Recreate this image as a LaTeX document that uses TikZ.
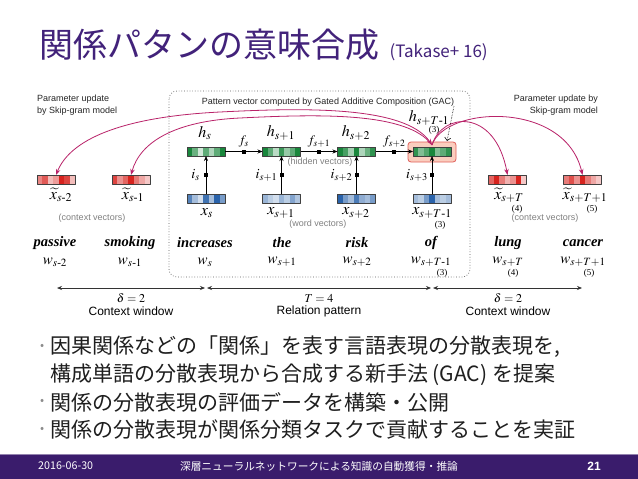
\documentclass[tikz,border=0pt]{standalone}
\usepackage{amsmath}
\usepackage{mathptmx}
\usepackage{fontspec}
\setmainfont{Liberation Serif}
\setsansfont{Liberation Sans}
\newfontfamily\jpfont{Noto Sans CJK JP}
\usetikzlibrary{arrows.meta,positioning}

\definecolor{titlepurple}{RGB}{66,34,122}
\definecolor{barpurple}{RGB}{58,28,108}
\definecolor{gacred}{RGB}{215,35,30}
\definecolor{gacgreen}{RGB}{25,135,60}
\definecolor{gacblue}{RGB}{30,90,165}
\definecolor{updmag}{RGB}{185,35,105}
\definecolor{hlfill}{RGB}{250,205,190}
\definecolor{hlline}{RGB}{225,95,90}

\newcommand\mhy{\text{-}}
% vector of 7 cells: name, centre, colour, shades
\newcommand\vecbar[4]{%
  \node[vecbox] (#1) at (#2) {};
  \foreach \sh [count=\k from 0] in {#4}
    \fill[#3!\sh!white] ([xshift={\k*38/7}]#1.north west) rectangle ([xshift={(\k+1)*38/7}]#1.south west);
  \draw[vecline] (#1.north west) rectangle (#1.south east);
}

\tikzset{
  vecbox/.style={rectangle, minimum width=38pt, minimum height=9pt, inner sep=0pt, outer sep=0pt},
  vecline/.style={draw=black!75, line width=0.5pt},
  gate/.style={fill=black, minimum size=4pt, inner sep=0pt, outer sep=0pt},
  flow/.style={-{Stealth[length=5pt,width=4pt]}, line width=0.6pt},
  upd/.style={updmag, line width=0.8pt, -{Stealth[length=6pt,width=4.5pt]}},
  span/.style={{Stealth[length=5pt,width=4pt]}-{Stealth[length=5pt,width=4pt]}, line width=0.7pt, black!80, shorten <=1pt, shorten >=1pt},
  note/.style={font=\sffamily\fontsize{9}{12}\selectfont, text=black!85},
  faint/.style={font=\sffamily\fontsize{9}{11}\selectfont, text=black!50},
  word/.style={font=\bfseries\itshape\fontsize{14.5}{16}\selectfont},
  big/.style={font=\fontsize{16}{18}\selectfont, inner sep=0pt},
  mid/.style={font=\fontsize{14}{16}\selectfont, inner sep=1pt},
  fsym/.style={font=\fontsize{13}{15}\selectfont, inner sep=1pt},
  wsym/.style={font=\fontsize{15}{17}\selectfont, inner sep=1pt},
  tiny/.style={font=\fontsize{9}{10}\selectfont, inner sep=0pt},
  window/.style={font=\sffamily\fontsize{12}{14}\selectfont},
  body/.style={font=\jpfont\fontsize{21}{24}\selectfont, text=black!88, anchor=west, inner sep=0pt},
  foot/.style={font=\jpfont\fontsize{10.7}{12}\selectfont, text=white, inner sep=0pt},
}

\begin{document}
\begin{tikzpicture}[x=1pt, y=-1pt, line join=round]
\useasboundingbox (0,0) rectangle (638,479);
\fill[white] (0,0) rectangle (638,479);

% title
\node[anchor=base west, inner sep=0pt, text=titlepurple, font=\jpfont\fontsize{34}{38}\selectfont] (title) at (39,57) {関係パタンの意味合成};
\node[anchor=base west, inner sep=0pt, text=titlepurple, font=\jpfont\fontsize{17}{19}\selectfont] (cite) at ([xshift=10pt]title.base east) {(Takase+ 16)};

% GAC frame
\draw[dotted, line width=0.7pt, black!65, rounded corners=8pt] (169,91) rectangle (470,277);
\path
(37,95) node[note, anchor=north west, align=left, inner sep=0pt] (updL) {Parameter update\\by Skip-gram model}
(328,102) node[note] (gac) {Pattern vector computed by Gated Additive Composition (GAC)}
(598,95) node[note, anchor=north east, align=right, inner sep=0pt] (updR) {Parameter update by\\Skip-gram model};

% highlighted pattern vector
\node[rectangle, rounded corners=3pt, fill=hlfill, draw=hlline, line width=0.8pt, minimum width=48pt, minimum height=20pt] (hl) at (432,152) {};

% vectors
\vecbar{hs}{206,151.5}{gacgreen}{100,65,20,70,35,70,100}
\vecbar{hs1}{281.5,151.5}{gacgreen}{100,70,30,85,45,70,100}
\vecbar{hs2}{356.5,151.5}{gacgreen}{100,80,40,100,35,65,90}
\vecbar{hsT}{432,151.5}{gacgreen}{90,55,75,100,55,70,90}
\vecbar{xs}{206,198.5}{gacblue}{75,40,20,85,40,95,60}
\vecbar{xs1}{281.5,198.5}{gacblue}{45,30,20,45,30,55,35}
\vecbar{xs2}{356.5,198.5}{gacblue}{95,60,40,80,50,40,60}
\vecbar{xsT}{432,198.5}{gacblue}{40,30,60,95,40,30,40}
\vecbar{cm2}{56,179.5}{gacred}{55,75,30,45,100,85,30}
\vecbar{cm1}{131,179.5}{gacred}{85,50,70,100,60,40,25}
\vecbar{cp0}{507.5,179.5}{gacred}{70,100,60,35,50,100,25}
\vecbar{cp1}{582.5,179.5}{gacred}{60,80,50,100,60,40,25}

% gated composition
\draw[flow] (xs.north) -- node[gate] (gi0) {} (hs.south);
\draw[flow] (xs1.north) -- node[gate] (gi1) {} (hs1.south);
\draw[flow] (xs2.north) -- node[gate] (gi2) {} (hs2.south);
\draw[flow] (xsT.north) -- node[gate] (gi3) {} (hsT.south);
\draw[flow] (hs.east) -- node[gate] (gf0) {} (hs1.west);
\draw[flow] (hs1.east) -- node[gate] (gf1) {} (hs2.west);
\draw[flow] (hs2.east) -- node[gate] (gf2) {} (hsT.west);
\node[mid, left=3pt of gi0] (li0) {$i_s$};
\node[mid, left=1pt of gi1] (li1) {$i_{s+1}$};
\node[mid, left=1pt of gi2] (li2) {$i_{s+2}$};
\node[mid, left=1pt of gi3] (li3) {$i_{s+3}$};
\node[fsym, above=1pt of gf0] (lf0) {$f_s$};
\node[fsym, above=1pt of gf1] (lf1) {$f_{s+1}$};
\node[fsym, above=1pt of gf2] (lf2) {$f_{s+2}$};

% vector labels
\path
(205,133) node[big] (lhs) {$h_s$}
(281,133) node[big] (lhs1) {$h_{s+1}$}
(356,133) node[big] (lhs2) {$h_{s+2}$}
(429,118) node[big] (lhsT) {$h_{s+T\mhy1}$}
(434,130) node[tiny] (nhsT) {(3)}
(320,162) node[faint] (hid) {(hidden vectors)}
(207,213) node[big] (lxs) {$x_s$}
(281,213) node[big] (lxs1) {$x_{s+1}$}
(356,213) node[big] (lxs2) {$x_{s+2}$}
(432,213) node[big] (lxsT) {$x_{s+T\mhy1}$}
(440,225) node[tiny] (nxsT) {(3)}
(318,224) node[faint] (wv) {(word vectors)}
(61,195) node[big] (lcm2) {$\widetilde{x}_{s\mhy2}$}
(133,195) node[big] (lcm1) {$\widetilde{x}_{s\mhy1}$}
(509,195) node[big] (lcp0) {$\widetilde{x}_{s+T}$}
(585,195) node[big] (lcp1) {$\widetilde{x}_{s+T+1}$}
(517,209) node[tiny] (ncp0) {(4)}
(592,209) node[tiny] (ncp1) {(5)}
(92,218) node[faint] (cvL) {(context vectors)}
(545,218) node[faint] (cvR) {(context vectors)};

% note arrow to the pattern vector
\coordinate (gacnote) at (454,106);
\coordinate (hlnote) at (447,141);
\draw[densely dotted, line width=0.6pt, -{Straight Barb[length=3pt,width=6pt]}] (gacnote) -- (hlnote);

% skip-gram updates
\coordinate (tgt) at ([yshift=2pt]hsT.north);
\draw[upd, {Stealth[length=6pt,width=4.5pt]}-{Stealth[length=6pt,width=4.5pt]}] (tgt) .. controls (405,105) and (300,108) .. (220,112) .. controls (120,117) and (70,140) .. (cm2.north);
\draw[upd] (tgt) .. controls (408,112) and (320,114) .. (240,118) .. controls (175,121) and (140,142) .. (cm1.north);
\draw[upd] (tgt) .. controls (442,112) and (495,108) .. (cp0.north);
\draw[upd] (tgt) .. controls (445,106) and (565,100) .. (cp1.north);

% words
\path
(55,243) node[word] (wpassive) {passive}
(130,243) node[word] (wsmoking) {smoking}
(205,243) node[word] (wincreases) {increases}
(282,243) node[word] (wthe) {the}
(357,243) node[word] (wrisk) {risk}
(431,243) node[word] (wof) {of}
(508,243) node[word] (wlung) {lung}
(583,243) node[word] (wcancer) {cancer}
(55,262) node[wsym] (lw0) {$w_{s\mhy2}$}
(130,262) node[wsym] (lw1) {$w_{s\mhy1}$}
(205,262) node[wsym] (lw2) {$w_s$}
(282,262) node[wsym] (lw3) {$w_{s+1}$}
(357,262) node[wsym] (lw4) {$w_{s+2}$}
(431,262) node[wsym] (lw5) {$w_{s+T\mhy1}$}
(508,262) node[wsym] (lw6) {$w_{s+T}$}
(583,262) node[wsym] (lw7) {$w_{s+T+1}$}
(442,273) node[tiny] (nw5) {(3)}
(513,273) node[tiny] (nw6) {(4)}
(589,273) node[tiny] (nw7) {(5)};

% windows
\coordinate (b0) at (56,288);
\coordinate (b1) at (206,288);
\coordinate (b2) at (432,288);
\coordinate (b3) at (583,288);
\draw[span] (b0) -- (b1);
\draw[span] (b1) -- (b2);
\draw[span] (b2) -- (b3);
\path
(131,298) node[font=\fontsize{12}{14}\selectfont, inner sep=0pt] (dL) {$\delta = 2$}
(131,311) node[window, inner sep=0pt] (cwL) {Context window}
(319,298) node[font=\fontsize{12}{14}\selectfont, inner sep=0pt] (tT) {$T = 4$}
(319,311) node[window, inner sep=0pt] (rp) {Relation pattern}
(508,298) node[font=\fontsize{12}{14}\selectfont, inner sep=0pt] (dR) {$\delta = 2$}
(508,311) node[window, inner sep=0pt] (cwR) {Context window};

% bullets
\path
(40,347) node[body, text=black!45, font=\jpfont\fontsize{12}{14}\selectfont] (d1) {•}
(40,402) node[body, text=black!45, font=\jpfont\fontsize{12}{14}\selectfont] (d2) {•}
(40,430) node[body, text=black!45, font=\jpfont\fontsize{12}{14}\selectfont] (d3) {•}
(50,347) node[body] (t1) {因果関係などの「関係」を表す言語表現の分散表現を,}
(50,375) node[body] (t1b) {構成単語の分散表現から合成する新手法 (GAC) を提案}
(50,402) node[body] (t2) {関係の分散表現の評価データを構築・公開}
(50,430) node[body] (t3) {関係の分散表現が関係分類タスクで貢献することを実証};

% footer
\fill[barpurple] (0,454) rectangle (638,479);
\draw[barpurple!55!white, line width=1pt] (0,454.5) -- (638,454.5);
\path
(38,466) node[foot, anchor=west] (date) {2016-06-30}
(319,466) node[foot] (ftitle) {深層ニューラルネットワークによる知識の自動獲得・推論}
(601,466) node[foot, anchor=east, font=\sffamily\bfseries\fontsize{12}{14}\selectfont] (page) {21};
\end{tikzpicture}
\end{document}
